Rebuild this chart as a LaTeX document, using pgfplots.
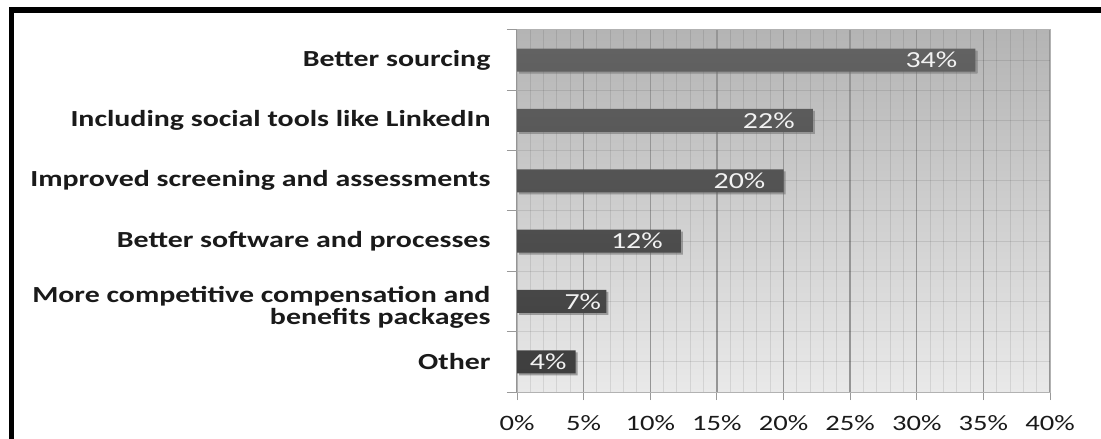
\documentclass[border=0pt]{standalone}
\usepackage{pgfplots}
\pgfplotsset{compat=1.18}
\usepackage{fontspec}
\setmainfont{Carlito}[FakeStretch=1.3]
\usetikzlibrary{shadows}
\definecolor{txt}{HTML}{1A1A1A}
\definecolor{bgtop}{HTML}{B4B4B4}
\definecolor{bgbot}{HTML}{E9E9E9}
\definecolor{bartop}{HTML}{626262}
\definecolor{barbot}{HTML}{3E3E3E}
\definecolor{majgrid}{HTML}{959595}
\definecolor{lbl}{HTML}{F2F2F2}
\begin{document}
\begin{tikzpicture}
\useasboundingbox[fill=white] (0bp,0bp) rectangle (1101bp,439bp);
\begin{axis}[
  at={(517bp,47bp)}, anchor=south west,
  scale only axis, width=533bp, height=362bp,
  xmin=0, xmax=40, ymin=-0.5, ymax=5.5,
  axis background/.style={shade, top color=bgtop, bottom color=bgbot},
  xtick={0,5,10,15,20,25,30,35,40},
  xticklabels={0\%,5\%,10\%,15\%,20\%,25\%,30\%,35\%,40\%},
  minor x tick num=4,
  xtick pos=bottom, ytick pos=left,
  ytick={0,1,2,3,4,5},
  yticklabels={Other\hspace{8bp}, {\raisebox{-14bp}[0pt][0pt]{\begin{tabular}{@{}r@{}}More competitive compensation and\\[-1bp]benefits packages\end{tabular}}}, Better software and processes, Improved screening and assessments, Including social tools like LinkedIn, Better sourcing},
  minor ytick={-0.5,0.5,1.5,2.5,3.5,4.5,5.5},
  tick align=outside,
  major tick length=8bp, minor tick length=10bp,
  major y tick style={draw=none},
  minor x tick style={draw=none},
  major x tick style={draw=black!40, line width=1bp},
  minor y tick style={draw=black!40, line width=1bp},
  xmajorgrids, xminorgrids, ymajorgrids, yminorgrids,
  major x grid style={draw=majgrid, line width=1.3bp},
  minor x grid style={draw=black, draw opacity=0.09, line width=1bp},
  major y grid style={draw=black, draw opacity=0.09, line width=1bp},
  minor y grid style={draw=black, draw opacity=0.09, line width=1bp},
  axis line style={draw=black!30, line width=1bp},
  xticklabel style={font=\fontsize{22bp}{24bp}\selectfont, text=txt, yshift=-12bp},
  yticklabel style={font=\fontsize{23bp}{23bp}\selectfont\bfseries, text=txt, xshift=-15bp},
]
\addplot[xbar, bar width=23bp, draw=none, top color=bartop, bottom color=barbot,
  drop shadow={shadow xshift=2bp, shadow yshift=-2bp, opacity=0.3},
  visualization depends on={value \thisrow{lab}\as\lab},
  visualization depends on={value \thisrow{dx}\as\dx},
  nodes near coords={\lab\%},
  every node near coord/.append style={anchor=east, xshift=\dx bp, inner sep=0pt, text=lbl, font=\fontsize{23bp}{24bp}\selectfont},
] table[x=v, y=c] {
c v lab dx
0 4.4 4 -9
1 6.7 7 -5
2 12.3 12 -18
3 20.0 20 -18
4 22.2 22 -18
5 34.4 34 -18
};
\end{axis}
\draw[line width=5.5bp, line join=miter] (11.6bp,-20bp) -- (11.6bp,429bp) -- (1130bp,429bp);
\end{tikzpicture}
\end{document}
